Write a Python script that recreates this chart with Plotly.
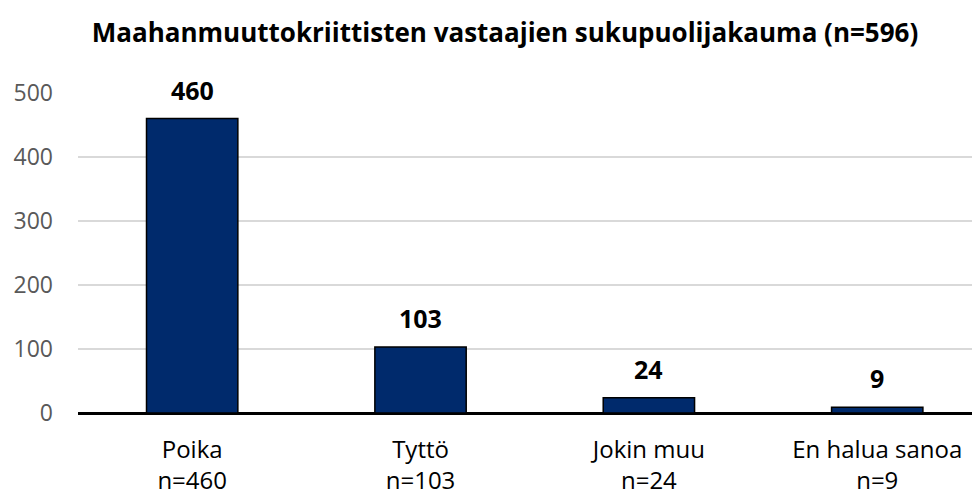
import plotly.graph_objects as go

categories = ["Poika", "Tyttö", "Jokin muu", "En halua sanoa"]
counts = [460, 103, 24, 9]
tick_labels = [f"{c}<br>n={v}" for c, v in zip(categories, counts)]
y_ticks = [0, 100, 200, 300, 400, 500]
title = "Maahanmuuttokriittisten vastaajien sukupuolijakauma (n=596)"

FONT = "Open Sans"
BAR = "#002A6C"

fig = go.Figure()
fig.add_trace(go.Bar(
    x=list(range(len(categories))),
    y=counts,
    width=0.4,
    marker=dict(color=BAR, line=dict(color="#000000", width=1.5)),
    hoverinfo="skip",
))

for i, v in enumerate(counts):
    fig.add_annotation(
        x=i, y=v, xref="x", yref="y",
        text=f"<b>{v}</b>", showarrow=False,
        yanchor="bottom", yshift=10,
        font=dict(family=FONT, size=25, color="#000000"),
    )

fig.update_layout(
    width=972, height=489,
    margin=dict(l=70, r=0, t=85, b=84),
    paper_bgcolor="white", plot_bgcolor="white",
    showlegend=False,
    title=dict(
        text=f"<b>{title}</b>",
        x=497 / 972, xanchor="center", xref="container",
        y=1 - 25 / 489, yanchor="middle", yref="container",
        font=dict(family=FONT, size=26, color="#000000"),
    ),
    xaxis=dict(
        range=[-0.5, 3.45],
        tickvals=list(range(len(categories))),
        ticktext=tick_labels,
        showgrid=False, ticks="",
        showline=False, zeroline=False,
        tickfont=dict(family=FONT, size=24, color="#000000"),
        ticklabelstandoff=20,
        automargin=False,
    ),
    yaxis=dict(
        range=[0, 500],
        tickvals=y_ticks,
        showgrid=True, gridcolor="#D9D9D9", gridwidth=1.5,
        zeroline=True, zerolinecolor="#000000", zerolinewidth=3,
        showline=False, ticks="",
        tickfont=dict(family=FONT, size=23, color="#595959"),
        ticklabelstandoff=24,
        automargin=False,
    ),
    font=dict(family=FONT),
)
fig.update_traces(cliponaxis=False)

fig.write_html("out.html")
